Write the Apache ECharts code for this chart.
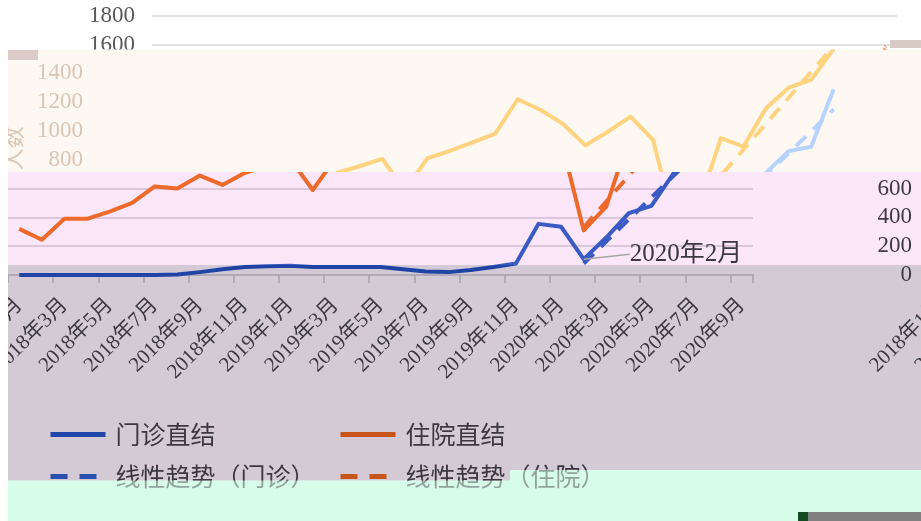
<!DOCTYPE html>
<html>
<head>
<meta charset="utf-8">
<script src="https://cdn.jsdelivr.net/npm/echarts@6/dist/echarts.min.js"></script>
<style>
  html, body { margin: 0; padding: 0; background: #fff; }
  #chart { width: 921px; height: 521px; }
</style>
</head>
<body>
<div id="chart"></div>
<script>
// 门诊 / 住院 直结人数, 2018年1月 - 2020年9月
const months = ['2018年1月', '2018年2月', '2018年3月', '2018年4月', '2018年5月', '2018年6月',
  '2018年7月', '2018年8月', '2018年9月', '2018年10月', '2018年11月', '2018年12月',
  '2019年1月', '2019年2月', '2019年3月', '2019年4月', '2019年5月', '2019年6月',
  '2019年7月', '2019年8月', '2019年9月', '2019年10月', '2019年11月', '2019年12月',
  '2020年1月', '2020年2月', '2020年3月', '2020年4月', '2020年5月', '2020年6月',
  '2020年7月', '2020年8月', '2020年9月'];
const outpatient = [0, 0, 0, 0, 0, 0, 0, 3, 20, 40, 55, 60, 65, 55, 55, 55, 55, 40, 25, 20, 35, 55, 80,
  355, 335, 110, 260, 430, 480, 710, 860, 890, 1290];
const inpatient = [320, 245, 390, 390, 440, 500, 615, 600, 690, 625, 710, 755, 806, 590, 810, 862, 920,
  980, 1220, 1147, 1050, 900, 995, 1100, 938, 310, 475, 950, 892, 1158, 1300, 1355, 1570];
// 线性趋势 endpoints
const trendMonths = ['2020年2月', '2020年9月'];
const outpatientTrend = [80, 1150];
const inpatientTrend = [330, 1590];
const annotated = '2020年2月';
const yMax = 1800;
const yStep = 200;

const serif = "'Liberation Serif', 'Noto Sans CJK SC', serif";
const cjk = "'Noto Sans CJK SC', sans-serif";
const BASE = 275, TOP = 15.7, PER = (BASE - TOP) / yMax;
const plain = v => String(Math.round(v));

const grids = [], xAxes = [], yAxes = [], series = [];

function layer(o) {
  const g = grids.length;
  grids.push({ left: o.left, top: o.top, width: 745, height: BASE - o.top, outerBoundsMode: 'none', containLabel: false });
  xAxes.push(Object.assign({ type: 'category', gridIndex: g, data: months, boundaryGap: true, show: false, z: o.z }, o.x || {}));
  yAxes.push(Object.assign({
    type: 'value', gridIndex: g, min: 0, max: o.max != null ? o.max : (BASE - o.top) / PER,
    interval: yStep, show: false, z: o.z
  }, o.y || {}));
  if (!o.c) return;
  const line = (name, data, color, dash, extra) => Object.assign({
    type: 'line', name: name, data: data, xAxisIndex: g, yAxisIndex: g, z: o.z + 1,
    symbol: 'none', silent: true, animation: false, emphasis: { disabled: true },
    lineStyle: { color: color, width: 4, type: dash || 'solid', join: 'round' },
    itemStyle: { color: color }
  }, extra || {});
  const mz = o.annotate ? outpatient.map((v, i) => months[i] !== annotated ? v : {
    value: v,
    label: { show: true, formatter: annotated, position: 'right', distance: 5, fontSize: 25, fontFamily: serif, color: '#3C3842' },
    labelLine: { show: true, lineStyle: { color: '#A6A6A6', width: 1.5 } }
  }) : outpatient;
  series.push(line('门诊直结', mz, o.c.blue, null, o.annotate ? { symbol: 'circle', symbolSize: 0, labelLayout: { dx: 41, dy: -5 } } : {}));
  series.push(line('住院直结', inpatient, o.c.orange));
  series.push(line('线性趋势（门诊）', trendMonths.map((m, i) => [m, outpatientTrend[i]]), o.c.blue, [14, 10]));
  series.push(line('线性趋势（住院）', trendMonths.map((m, i) => [m, inpatientTrend[i]]), o.c.orange, [14, 10]));
}

const xLabel = { interval: 1, rotate: 45, margin: 27, fontSize: 21, color: '#3C3842', fontFamily: serif };

// gray band (bottom strip, shifted left)
layer({
  left: 8, top: 267, z: 31, c: { blue: '#1F44A6', orange: '#C8561A' },
  x: {
    show: true, axisLabel: xLabel,
    axisLine: { lineStyle: { color: '#A8A1AD', width: 1.5 } },
    axisTick: { show: true, interval: 1, length: 8, lineStyle: { color: '#A8A1AD', width: 1.5 } }
  }
});
// wrapped-around labels on the right
layer({
  left: 929, top: 174, z: 31,
  x: { show: true, axisLine: { show: false }, axisTick: { show: false }, axisLabel: xLabel },
  y: {
    show: true, axisLine: { show: false }, axisTick: { show: false }, splitLine: { show: false },
    axisLabel: { margin: 17, fontSize: 23, color: '#3F3A45', fontFamily: serif, showMaxLabel: false, formatter: plain }
  }
});
// pink band
layer({
  left: 8, top: 174, z: 21, c: { blue: '#3A5AC4', orange: '#EE6A2A' }, annotate: true,
  y: {
    show: true, axisLine: { show: false }, axisTick: { show: false }, axisLabel: { show: false },
    splitLine: { show: true, showMaxLine: false, showMinLine: false, lineStyle: { color: '#D2BDD3', width: 1.5 } }
  }
});
// cream band
layer({
  left: 100, top: 51.5, z: 11, c: { blue: '#B7D3FF', orange: '#FFD37F' },
  y: {
    show: true, axisLine: { show: false }, axisTick: { show: false }, splitLine: { show: false },
    axisLabel: { margin: 17, fontSize: 23, color: '#D9C6B4', fontFamily: serif, showMaxLabel: false, formatter: plain },
    name: '人数', nameLocation: 'middle', nameGap: 76,
    nameTextStyle: { fontSize: 22, color: '#D9C6B4', fontFamily: cjk, padding: [0, 0, 0, 30] }
  }
});
// top white band
layer({
  left: 152, top: TOP, z: 1, max: yMax, c: { blue: '#3A5AC4', orange: '#EE6A2A' },
  y: {
    show: true, axisLine: { show: false }, axisTick: { show: false },
    axisLabel: { margin: 17, fontSize: 23, color: '#595959', fontFamily: serif, formatter: plain },
    splitLine: { show: true, lineStyle: { color: '#D9D9D9', width: 1.5 } }
  }
});

const legendBase = {
  orient: 'vertical', top: 422, padding: 0, itemWidth: 55, itemHeight: 14, itemGap: 17, z: 33,
  selectedMode: false,
  textStyle: { fontSize: 25, color: '#3C3842', fontFamily: cjk, padding: [0, 0, 0, 5] }
};
const legendItem = (name, color, dash) => ({
  name: name,
  itemStyle: { color: 'rgba(0,0,0,0)', borderWidth: 0, opacity: 0 },
  lineStyle: { color: color, width: 5, type: dash || 'solid' }
});

const mintFill = '#D7FCEA';
const option = {
  animation: false,
  grid: grids, xAxis: xAxes, yAxis: yAxes, series: series,
  legend: [
    Object.assign({}, legendBase, { left: 48, data: [legendItem('门诊直结', '#2145A8'), legendItem('线性趋势（门诊）', '#2A4EAE', [17, 12])] }),
    Object.assign({}, legendBase, { left: 338, data: [legendItem('住院直结', '#C8541A'), legendItem('线性趋势（住院）', '#C8561A', [17, 12])] })
  ],
  graphic: {
    elements: [
      { type: 'rect', z: 10, silent: true, shape: { x: 8, y: 49.5, width: 913, height: 472 }, style: { fill: '#FEF8F2' } },
      { type: 'rect', z: 20, silent: true, shape: { x: 8, y: 172, width: 913, height: 349 }, style: { fill: '#FCE7FA' } },
      { type: 'rect', z: 30, silent: true, shape: { x: 8, y: 265, width: 913, height: 256 }, style: { fill: '#D3CAD6' } },
      { type: 'rect', z: 30, silent: true, shape: { x: 8, y: 480.5, width: 502, height: 41 }, style: { fill: mintFill } },
      { type: 'rect', z: 30, silent: true, shape: { x: 510, y: 470, width: 411, height: 51 }, style: { fill: mintFill } },
      { type: 'rect', z: 40, silent: true, shape: { x: 8, y: 480.5, width: 502, height: 41 }, style: { fill: mintFill, opacity: 0.55 } },
      { type: 'rect', z: 40, silent: true, shape: { x: 510, y: 470, width: 411, height: 51 }, style: { fill: mintFill, opacity: 0.55 } },
      { type: 'rect', z: 40, silent: true, shape: { x: 0, y: 49.5, width: 8, height: 472 }, style: { fill: '#FFFFFF' } },
      { type: 'rect', z: 40, silent: true, shape: { x: 8, y: 50, width: 30, height: 10 }, style: { fill: '#DCCBC8' } },
      { type: 'rect', z: 40, silent: true, shape: { x: 890, y: 40, width: 31, height: 8 }, style: { fill: '#D8CAC4' } },
      { type: 'rect', z: 40, silent: true, shape: { x: 798, y: 512, width: 10, height: 9 }, style: { fill: '#124A22' } },
      { type: 'rect', z: 40, silent: true, shape: { x: 808, y: 512, width: 113, height: 9 }, style: { fill: '#808080' } }
    ]
  }
};

const chart = echarts.init(document.getElementById('chart'));
chart.setOption(option);
</script>
</body>
</html>
